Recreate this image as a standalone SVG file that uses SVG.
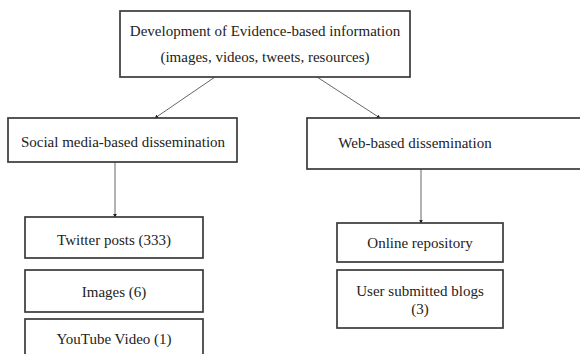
<svg xmlns="http://www.w3.org/2000/svg" width="580" height="354" viewBox="0 0 580 354">
<defs>
<style>
.box{fill:#fff;stroke:#3a3a3a;stroke-width:1.7}
.t{font-family:"Liberation Serif","Times New Roman",serif;font-size:15px;fill:#222;text-anchor:middle}
.c{stroke:#666;stroke-width:1;fill:none;marker-end:url(#ah)}
</style>
<marker id="ah" viewBox="0 0 6 6" refX="5" refY="3" markerWidth="4" markerHeight="4" orient="auto" markerUnits="userSpaceOnUse">
<path d="M0,0 L6,3 L0,6 z" fill="#222"/>
</marker>
</defs>
<rect width="580" height="354" fill="#fff"/>
<g id="connectors">
<line class="c" x1="215" y1="77" x2="155" y2="118"/>
<line class="c" x1="317" y1="77" x2="380" y2="118"/>
<line class="c" x1="115" y1="162" x2="115" y2="217"/>
<line class="c" x1="421" y1="169" x2="421" y2="223"/>
</g>
<g id="top">
<rect class="box" x="120" y="11" width="290" height="66"/>
<text class="t" x="265" y="36">Development of Evidence-based information</text>
<text class="t" x="265" y="62">(images, videos, tweets, resources)</text>
</g>
<g id="social">
<rect class="box" x="8" y="118" width="229" height="44"/>
<text class="t" x="123" y="147">Social media-based dissemination</text>
</g>
<g id="web">
<rect class="box" x="307" y="118" width="285" height="51"/>
<text class="t" x="415" y="148">Web-based dissemination</text>
</g>
<g id="twitter">
<rect class="box" x="25" y="217" width="178" height="41"/>
<text class="t" x="114" y="245">Twitter posts (333)</text>
</g>
<g id="images">
<rect class="box" x="25" y="270" width="178" height="42"/>
<text class="t" x="114" y="297">Images (6)</text>
</g>
<g id="youtube">
<rect class="box" x="25" y="319" width="178" height="45"/>
<text class="t" x="114" y="344">YouTube Video (1)</text>
</g>
<g id="online">
<rect class="box" x="337" y="223" width="166" height="39"/>
<text class="t" x="420" y="248">Online repository</text>
</g>
<g id="blogs">
<rect class="box" x="337" y="270" width="166" height="58"/>
<text class="t" x="420" y="296">User submitted blogs</text>
<text class="t" x="420" y="314">(3)</text>
</g>
</svg>
